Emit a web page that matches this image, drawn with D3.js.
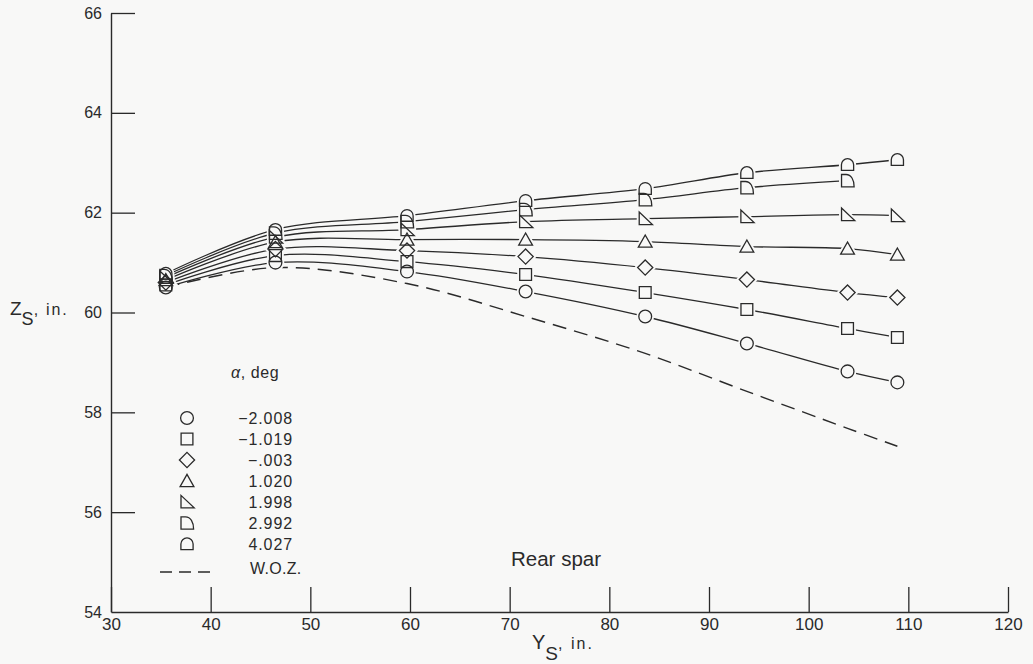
<!DOCTYPE html>
<html>
<head>
<meta charset="utf-8">
<script src="https://cdn.jsdelivr.net/npm/d3@7"></script>
<style>
  html, body { margin: 0; padding: 0; background: #f8f8f7; }
  svg { display: block; }
  text { font-family: "Liberation Sans", Arial, sans-serif; fill: #2a2a2a; }
</style>
</head>
<body>
<svg id="chart" width="1033" height="664"></svg>
<script>
// Spanwise stations along the rear spar, in.
const stations = [35.5, 46.5, 59.7, 71.6, 83.6, 93.8, 103.9, 108.9];

// Vertical spar position Z_S, in., for each angle of attack
const alphaLabels = ["\u22122.008", "\u22121.019", "\u2212.003", "1.020", "1.998", "2.992", "4.027"];
const zAlphaM2008 = [60.50, 61.00, 60.82, 60.42, 59.92, 59.38, 58.82, 58.60];
const zAlphaM1019 = [60.55, 61.14, 61.02, 60.76, 60.40, 60.06, 59.68, 59.50];
const zAlphaM0003 = [60.60, 61.27, 61.24, 61.12, 60.90, 60.66, 60.40, 60.30];
const zAlpha1020  = [60.65, 61.41, 61.46, 61.46, 61.42, 61.32, 61.28, 61.16];
const zAlpha1998  = [60.70, 61.51, 61.66, 61.82, 61.88, 61.92, 61.96, 61.94];
const zAlpha2992  = [60.74, 61.59, 61.82, 62.06, 62.26, 62.50, 62.64];
const zAlpha4027  = [60.78, 61.66, 61.94, 62.24, 62.48, 62.80, 62.96, 63.06];
// Wind-off zero (W.O.Z.) reference shape
const zWOZ        = [60.50, 60.90, 60.58, 59.92, 59.18, 58.42, 57.68, 57.32];

const xTicks = [30, 40, 50, 60, 70, 80, 90, 100, 110, 120];
const yTicks = [54, 56, 58, 60, 62, 64, 66];

const seriesValues = [zAlphaM2008, zAlphaM1019, zAlphaM0003, zAlpha1020, zAlpha1998, zAlpha2992, zAlpha4027];
const symbolKinds = ["circle", "square", "diamond", "triangle", "rtriangle", "quarter", "dome"];

const ink = "#2a2a2a";
const bg = "#f8f8f7";
const svg = d3.select("#chart");

const x = d3.scaleLinear().domain([30, 120]).range([111, 1008]);
const y = d3.scaleLinear().domain([54, 66]).range([612, 13]);

// Marker outlines, centred on (0,0)
function symbolPath(kind) {
  const p = d3.path();
  switch (kind) {
    case "circle":
      p.arc(0, 0, 6.4, 0, 2 * Math.PI); p.closePath(); break;
    case "square":
      p.rect(-5.9, -5.9, 11.8, 11.8); break;
    case "diamond":
      p.moveTo(0, -7.6); p.lineTo(7.6, 0); p.lineTo(0, 7.6); p.lineTo(-7.6, 0); p.closePath(); break;
    case "triangle":
      p.moveTo(0, -6.6); p.lineTo(6.9, 5.6); p.lineTo(-6.9, 5.6); p.closePath(); break;
    case "rtriangle":
      p.moveTo(-6, -6.6); p.lineTo(-6, 5.9); p.lineTo(7.2, 5.9); p.closePath(); break;
    case "quarter":
      p.moveTo(-6, 6.2); p.lineTo(-6, -6.2); p.lineTo(-1.5, -6.2);
      p.bezierCurveTo(3.6, -6.2, 6.6, -1, 6.6, 6.2); p.closePath(); break;
    case "dome":
      p.moveTo(-6.1, 5.6); p.lineTo(-6.1, 0); p.arc(0, 0, 6.1, Math.PI, 2 * Math.PI); p.lineTo(6.1, 5.6); p.closePath(); break;
  }
  return p.toString();
}

// Axes
const xAxis = d3.axisBottom(x).tickValues(xTicks).tickSize(25).tickSizeOuter(0).tickFormat(d3.format("d"));
const gx = svg.append("g").attr("transform", `translate(0,${y(54)})`).call(xAxis);
gx.select(".domain").attr("stroke", ink).attr("stroke-width", 1.6);
gx.selectAll(".tick line").attr("stroke", ink).attr("stroke-width", 1.3).attr("y2", -25);
gx.selectAll(".tick text")
  .attr("y", 6).attr("dy", "0.71em")
  .style("font-size", "17px").attr("fill", ink);

const yAxis = d3.axisLeft(y).tickValues(yTicks).tickSize(24).tickSizeOuter(0).tickFormat(d3.format("d"));
const gy = svg.append("g").attr("transform", `translate(${x(30)},0)`).call(yAxis);
gy.select(".domain").attr("stroke", ink).attr("stroke-width", 1.4);
gy.selectAll(".tick line").attr("stroke", ink).attr("stroke-width", 1.3).attr("x2", 24);
gy.selectAll(".tick text").attr("x", -9).style("font-size", "16px").attr("fill", ink);
gy.selectAll(".tick").filter(d => d === 54).select("line").remove();

// Axis titles
const xt = svg.append("text").attr("x", 532).attr("y", 649);
xt.append("tspan").text("Y").style("font-size", "20px");
xt.append("tspan").text("S").attr("dy", 11).style("font-size", "19px");
xt.append("tspan").text(", in.").attr("dy", -11).style("font-size", "16px").style("letter-spacing", "2px");

const yt = svg.append("text").attr("x", 10).attr("y", 315);
yt.append("tspan").text("Z").style("font-size", "19px");
yt.append("tspan").text("S").attr("dy", 10).style("font-size", "18px");
yt.append("tspan").text(", in.").attr("dy", -10).style("font-size", "16px").style("letter-spacing", "1.8px");

svg.append("text").attr("x", 511).attr("y", 566).text("Rear spar").style("font-size", "20.5px");

// Faired curves
const line = d3.line().x((d, i) => x(stations[i])).y(d => y(d)).curve(d3.curveCatmullRom.alpha(0.5));

svg.append("path").attr("d", line(zWOZ))
  .attr("fill", "none").attr("stroke", ink).attr("stroke-width", 1.4)
  .attr("stroke-dasharray", "14,8");

const seriesG = svg.append("g");
seriesValues.forEach(vals => {
  seriesG.append("path").attr("d", line(vals))
    .attr("fill", "none").attr("stroke", ink).attr("stroke-width", 1.3);
});

// Data symbols: a pale halo first so the curves break around each symbol
const markG = svg.append("g");
seriesValues.forEach((vals, s) => {
  const kind = symbolKinds[s];
  vals.forEach((v, i) => {
    markG.append("path").attr("d", symbolPath(kind))
      .attr("transform", `translate(${x(stations[i])},${y(v)})`)
      .attr("fill", bg).attr("stroke", bg).attr("stroke-width", 5);
  });
});
seriesValues.forEach((vals, s) => {
  const kind = symbolKinds[s];
  vals.forEach((v, i) => {
    markG.append("path").attr("d", symbolPath(kind))
      .attr("transform", `translate(${x(stations[i])},${y(v)})`)
      .attr("fill", "none").attr("stroke", ink).attr("stroke-width", 1.3);
  });
});

// Legend
const leg = svg.append("g");
const legTitle = leg.append("text").attr("x", 231).attr("y", 378)
  .style("font-size", "16px").style("letter-spacing", "0.6px");
legTitle.append("tspan").text("\u03b1").style("font-style", "italic");
legTitle.append("tspan").text(",  deg");

const rowY = d3.scalePoint().domain(d3.range(alphaLabels.length)).range([418, 544]);
alphaLabels.forEach((lab, i) => {
  leg.append("path").attr("d", symbolPath(symbolKinds[i]))
    .attr("transform", `translate(187,${rowY(i)})`)
    .attr("fill", "none").attr("stroke", ink).attr("stroke-width", 1.3);
  leg.append("text").attr("x", 293).attr("y", rowY(i) + 6).attr("text-anchor", "end")
    .text(lab).style("font-size", "16px").style("letter-spacing", "0.9px");
});
leg.append("line").attr("x1", 160).attr("x2", 211).attr("y1", 572).attr("y2", 572)
  .attr("stroke", ink).attr("stroke-width", 1.4).attr("stroke-dasharray", "12,7");
leg.append("text").attr("x", 250).attr("y", 574).text("W.O.Z.")
  .style("font-size", "16px").style("letter-spacing", "0.3px");
</script>
</body>
</html>
